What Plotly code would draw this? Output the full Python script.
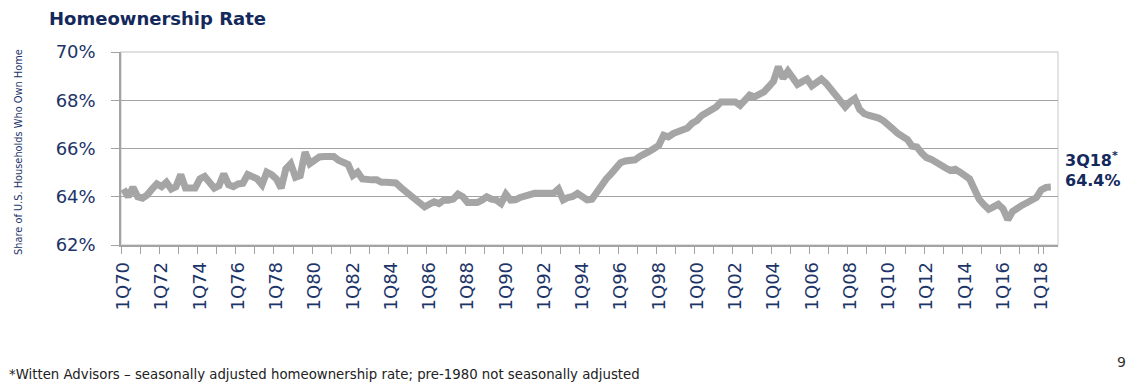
import plotly.graph_objects as go

# ---------------- data ----------------
years = list(range(1970, 2020))
quarters = [f"{q}Q{y % 100:02d}" for y in years for q in (1, 2, 3, 4)][:195]
pad_quarters = ["4Q18", "1Q19"]

rate = [
    # 1970-1979
    64.32, 64.00, 64.39, 64.00, 63.94, 64.08, 64.32, 64.53, 64.42, 64.60,
    64.32, 64.42, 64.92, 64.36, 64.36, 64.36, 64.74, 64.84, 64.60, 64.36,
    64.46, 64.95, 64.50, 64.42, 64.53, 64.56, 64.92, 64.84, 64.74, 64.50,
    65.02, 64.92, 64.74, 64.36, 65.16, 65.37, 64.81, 64.88, 65.85, 65.37,
    # 1980-1989
    65.48, 65.65, 65.67, 65.67, 65.67, 65.51, 65.44, 65.34, 64.88, 65.02,
    64.74, 64.70, 64.70, 64.70, 64.60, 64.60, 64.60, 64.57, 64.39, 64.22,
    64.08, 63.97, 63.72, 63.58, 63.69, 63.79, 63.72, 63.86, 63.86, 63.90,
    64.11, 64.00, 63.76, 63.76, 63.76, 63.86, 64.00, 63.90, 63.86, 63.72,
    # 1990-1999
    64.11, 63.86, 63.87, 63.97, 64.03, 64.11, 64.14, 64.14, 64.14, 64.14,
    64.15, 64.32, 63.87, 63.97, 64.01, 64.14, 64.00, 63.87, 63.90, 64.18,
    64.53, 64.74, 64.95, 65.23, 65.41, 65.48, 65.48, 65.53, 65.67, 65.81,
    65.88, 66.00, 66.13, 66.55, 66.48, 66.62, 66.68, 66.76, 66.85, 67.05,
    # 2000-2009
    67.16, 67.37, 67.48, 67.54, 67.72, 67.93, 67.93, 67.93, 67.93, 67.79,
    67.96, 68.21, 68.14, 68.21, 68.35, 68.56, 68.79, 69.39, 68.91, 69.21,
    68.91, 68.66, 68.77, 68.88, 68.60, 68.79, 68.88, 68.70, 68.46, 68.18,
    67.90, 67.72, 67.93, 68.07, 67.62, 67.44, 67.37, 67.35, 67.26, 67.15,
    # 2010-2018
    67.01, 66.80, 66.62, 66.52, 66.37, 66.09, 66.06, 65.81, 65.62, 65.55,
    65.41, 65.28, 65.19, 65.09, 65.14, 65.02, 64.88, 64.74, 64.32, 63.90,
    63.67, 63.48, 63.58, 63.69, 63.50, 63.05, 63.39, 63.55, 63.65, 63.75,
    63.83, 63.97, 64.28, 64.39, 64.40,
]

y_ticks = [62, 64, 66, 68, 70]
y_ticktext = ["62%", "64%", "66%", "68%", "70%"]
x_tickvals = quarters[0::4] + ["1Q19"]
x_ticktext = [q if int(q[2:]) % 2 == 0 else " " for q in quarters[0::4]] + [" "]

title_text = "Homeownership Rate"
ytitle_text = "Share of U.S. Households Who Own Home"
last_label = "3Q18<sup>*</sup>"
last_value = "64.4%"
footnote = "*Witten Advisors \u2013 seasonally adjusted homeownership rate; pre-1980 not seasonally adjusted"
page_no = "9"

# ---------------- layout geometry ----------------
W, H = 1132, 389
L, R, T, B = 121, 74, 52, 144
PW, PH = W - L - R, H - T - B

def px(xp):
    return (xp - L) / PW

def py(yp):
    return (H - B - yp) / PH

NAVY = "#14295c"
TICKNAVY = "#1c3468"
GRID = "#a3a3a3"
FONT = "DejaVu Sans, Verdana, sans-serif"

fig = go.Figure()
fig.add_trace(go.Scatter(
    x=quarters + pad_quarters, y=rate + [None, None], mode="lines",
    line=dict(color="#a5a5a5", width=7),
    hoverinfo="skip", showlegend=False,
))

fig.update_layout(
    width=W, height=H,
    margin=dict(l=L, r=R, t=T, b=B, pad=0),
    paper_bgcolor="white", plot_bgcolor="white",
    font=dict(family=FONT, color=TICKNAVY),
    xaxis=dict(
        type="category",
        range=[-0.5, 195.5],
        tickmode="array", tickvals=x_tickvals, ticktext=x_ticktext,
        tickson="boundaries",
        ticks="outside", ticklen=7, tickwidth=1.3, tickcolor=GRID,
        tickangle=-90, tickfont=dict(size=18, color=TICKNAVY, family=FONT),
        ticklabelstandoff=8,
        showgrid=False, showline=True, linecolor=GRID, linewidth=1.5,
        zeroline=False, fixedrange=True,
    ),
    yaxis=dict(
        range=[62, 70],
        tickmode="array", tickvals=y_ticks, ticktext=y_ticktext,
        ticks="outside", ticklen=8, tickwidth=1.3, tickcolor=GRID,
        tickfont=dict(size=18, color=TICKNAVY, family=FONT),
        ticklabelstandoff=12,
        showgrid=True, gridcolor=GRID, gridwidth=1.3,
        showline=True, linecolor=GRID, linewidth=1.5,
        zeroline=False, fixedrange=True,
    ),
    shapes=[dict(type="rect", xref="paper", yref="paper", x0=0, x1=1, y0=0, y1=1,
                 line=dict(color="#d6d6d6", width=1.3), layer="below")],
)

ann = []
ann.append(dict(text="<b>" + title_text + "</b>", x=px(47), y=py(18), xref="paper", yref="paper",
                xanchor="left", yanchor="middle", showarrow=False,
                font=dict(size=18, color=NAVY, family=FONT)))
ann.append(dict(text=ytitle_text, x=px(18), y=py(152), xref="paper", yref="paper",
                xanchor="center", yanchor="middle", textangle=-90, showarrow=False,
                font=dict(size=9.8, color=TICKNAVY, family=FONT)))
ann.append(dict(text="<b>" + last_label + "</b>", x=px(1063), y=py(159), xref="paper", yref="paper",
                xanchor="left", yanchor="middle", showarrow=False,
                font=dict(size=16, color=NAVY, family=FONT)))
ann.append(dict(text="<b>" + last_value + "</b>", x=px(1063), y=py(180), xref="paper", yref="paper",
                xanchor="left", yanchor="middle", showarrow=False,
                font=dict(size=16, color=NAVY, family=FONT)))
ann.append(dict(text=footnote, x=px(7), y=py(374), xref="paper", yref="paper",
                xanchor="left", yanchor="middle", showarrow=False,
                font=dict(size=13.3, color="#222222", family=FONT)))
ann.append(dict(text=page_no, x=px(1121), y=py(362), xref="paper", yref="paper",
                xanchor="center", yanchor="middle", showarrow=False,
                font=dict(size=14, color="#333333", family=FONT)))
fig.update_layout(annotations=ann)

fig.write_html("out.html", config={"displayModeBar": False},
               post_script="document.body.style.margin='0';document.body.style.overflow='hidden';")
